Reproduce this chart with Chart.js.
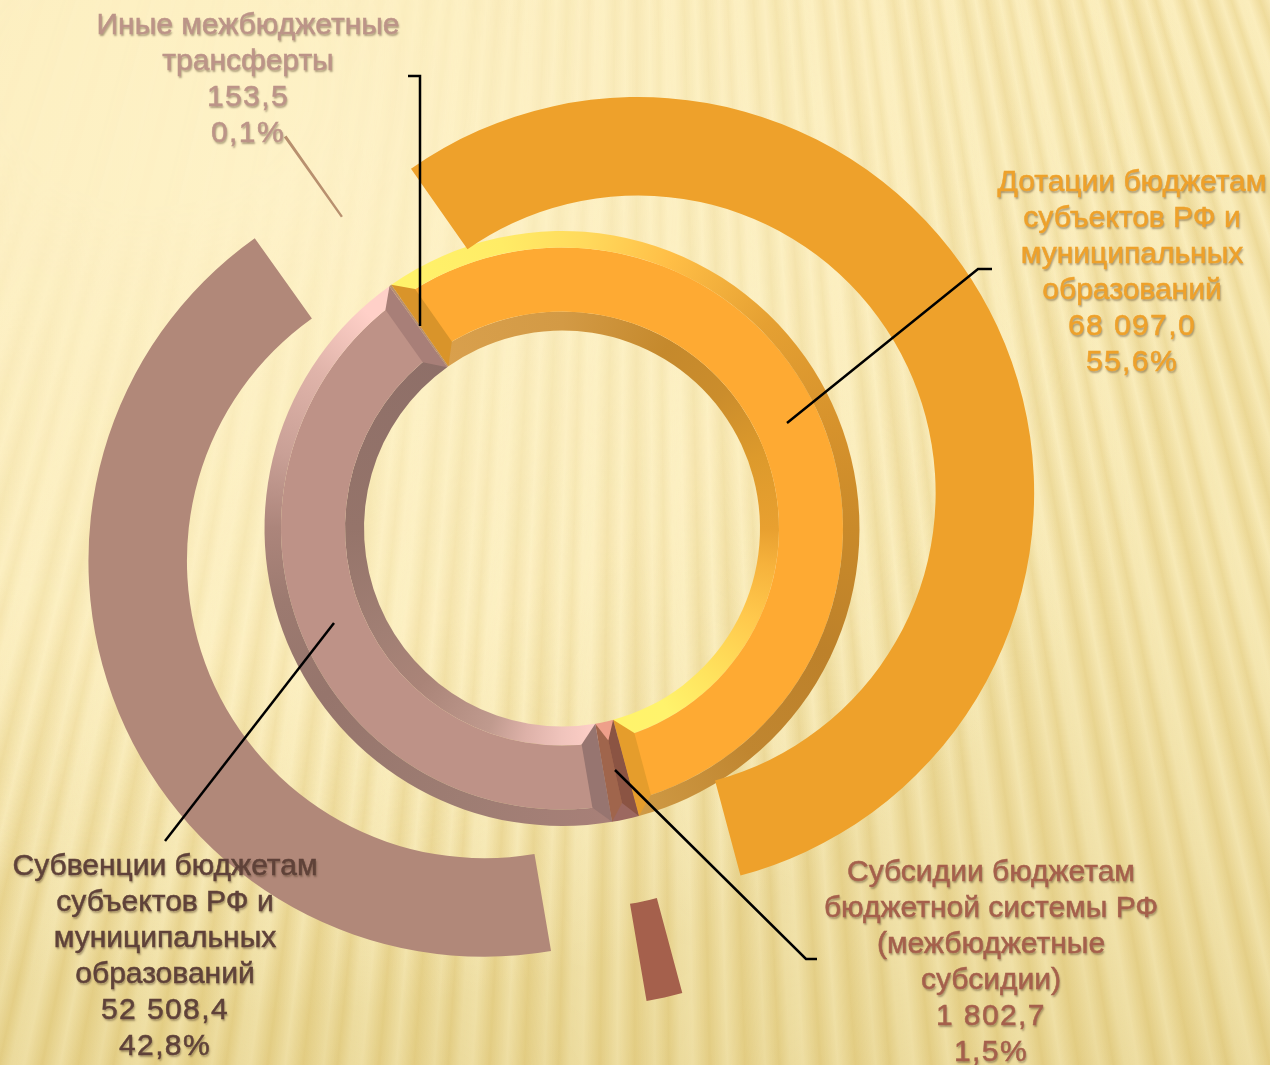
<!DOCTYPE html>
<html lang="ru">
<head>
<meta charset="utf-8">
<title>Межбюджетные трансферты</title>
<script src="https://cdn.jsdelivr.net/npm/chart.js@4"></script>
<style>
  html, body { margin: 0; padding: 0; }
  #page {
    position: relative; width: 1270px; height: 1065px; overflow: hidden;
    background:
      radial-gradient(ellipse 950px 820px at 22% 18%, #FEF2C8 0%, #FCEEBF 55%, rgba(252,238,191,0) 100%),
      linear-gradient(180deg, #F8E8B2 0%, #F2E1A6 55%, #E9D695 82%, #E3CE86 100%);
  }
  #stripes {
    position: absolute; inset: 0;
    background: repeating-conic-gradient(from 150deg at 640px -1800px,
      rgba(226,202,125,.42) 0deg, rgba(255,246,205,.4) .34deg, rgba(255,246,205,.3) .6deg, rgba(226,202,125,.34) .82deg,
      rgba(255,246,205,.32) 1.1deg, rgba(226,202,125,.46) 1.5deg, rgba(255,246,205,.4) 1.85deg, rgba(226,202,125,.42) 2.2deg);
    -webkit-mask-image: radial-gradient(ellipse 1000px 800px at 12% 8%, rgba(0,0,0,.04) 15%, rgba(0,0,0,.5) 60%, #000 100%);
    mask-image: radial-gradient(ellipse 1000px 800px at 12% 8%, rgba(0,0,0,.04) 15%, rgba(0,0,0,.5) 60%, #000 100%);
  }
  canvas { position: absolute; left: 0; top: 0; }
  .lbl {
    position: absolute; transform: translateX(-50%); text-align: center; white-space: nowrap;
    font: 30px/36px "Liberation Sans", sans-serif;
    -webkit-text-stroke: .5px currentColor;
    text-shadow: 1px 2px 2px rgba(70,50,30,.45);
  }
  .num { letter-spacing: 1.4px; }
</style>
</head>
<body>
<div id="page">
  <div id="stripes"></div>
  <canvas id="chart" width="1270" height="1065"></canvas>
</div>
<script>
// clockwise from the top left
const categories = [
  ["Дотации бюджетам", "субъектов РФ и", "муниципальных", "образований"],
  ["Субсидии бюджетам", "бюджетной системы РФ", "(межбюджетные", "субсидии)"],
  ["Субвенции бюджетам", "субъектов РФ и", "муниципальных", "образований"],
  ["Иные межбюджетные", "трансферты"]
];
const values = [68097.0, 1802.7, 52508.4, 153.5];
const valueLabels = ["68 097,0", "1 802,7", "52 508,4", "153,5"];
const percentLabels = ["55,6%", "1,5%", "42,8%", "0,1%"];

// layout
const startDeg = -35;
const explode = 84;
const bevel = 17;
const labelPos = [[1132, 163], [991, 853], [165, 847], [248, 6]];
const labelColors = ["#EEA12B", "#A5604C", "#5F4239", "#BC9488"];
const leaders = [
  [[992, 269], [978, 269], [787, 423]],
  [[817, 959], [806, 959], [615, 770]],
  [[334, 623], [165, 841]],
  [[408, 76], [420, 76], [420, 326]]
];

// flat colours
const shadowColors = ["#EEA12B", "#A5604C", "#B18879", "#B8906F"];
const faceColors = ["#FEAA33", "#A0654C", "#BE9287", "#B8906F"];
// end facets [start side, end side]
const facetColors = [["#D9942A", "#E59D2C"], ["#8B5443", "#A0654C"], ["#977570", "#A87F78"], null];

// bevel light, [degrees from 12 o'clock, colour]
const outerOrange = [[-35, "#FFF36B"], [-12, "#FFEC66"], [5, "#FFD95C"], [22, "#FFBE46"], [45, "#E5A032"], [70, "#D6922C"], [90, "#C98A2A"], [115, "#BD812A"], [140, "#C08630"], [165, "#CF9A45"]];
const innerOrange = [[-35, "#D9A04D"], [0, "#D39A45"], [30, "#C5892C"], [50, "#CB8D2C"], [70, "#DD9A2C"], [90, "#E8A030"], [100, "#F6B23C"], [115, "#FFC84C"], [135, "#FFE35E"], [150, "#FFF36C"], [165, "#FFF36B"]];
const outerMauve = [[170, "#A88078"], [200, "#9E7D73"], [235, "#96756C"], [255, "#9C7A70"], [270, "#AC857B"], [285, "#C9A096"], [303, "#E0B4AA"], [318, "#FFD0C8"], [325, "#FFD0C8"]];
const innerMauve = [[170, "#FFD0C8"], [180, "#F0C4BC"], [190, "#DDB1A8"], [200, "#C09A8E"], [222, "#AA8478"], [240, "#A17F74"], [270, "#95746A"], [325, "#8E6F68"]];

function conic(chart, stops) {
  const area = chart.chartArea;
  const g = chart.ctx.createConicGradient((startDeg - 90) * Math.PI / 180, (area.left + area.right) / 2, (area.top + area.bottom) / 2);
  stops.forEach(s => g.addColorStop((s[0] - startDeg) / 360, s[1]));
  return g;
}

function bevelColor(orange, mauve, small) {
  return c => {
    if (!c.chart.chartArea) return "#000";
    if (c.dataIndex == 0) return conic(c.chart, orange);
    if (c.dataIndex == 2) return conic(c.chart, mauve);
    return small[c.dataIndex];
  };
}

// moves the outer ring slices out along their middle angle
const explodePlugin = {
  id: "explodeRing",
  afterDatasetsUpdate(chart) {
    chart.getDatasetMeta(0).data.forEach(arc => {
      const mid = (arc.startAngle + arc.endAngle) / 2;
      arc.x += Math.cos(mid) * explode;
      arc.y += Math.sin(mid) * explode;
    });
  }
};

// the mitred end faces of each slice of the inner ring
const facetPlugin = {
  id: "facets",
  afterDatasetsDraw(chart) {
    const ctx = chart.ctx;
    const ring = chart.getDatasetMeta(1).data;
    const inner = chart.getDatasetMeta(3).data;
    const face = chart.getDatasetMeta(2).data;
    ring.forEach((arc, i) => {
      if (!facetColors[i]) return;
      const half = (arc.endAngle - arc.startAngle) / 2;
      const step = r => Math.min(Math.asin(bevel / r), half);
      const pt = (r, a) => [arc.x + Math.cos(a) * r, arc.y + Math.sin(a) * r];
      const rs = [arc.outerRadius, face[i].outerRadius, face[i].innerRadius, inner[i].innerRadius];
      [[arc.startAngle, 1, 0], [arc.endAngle, -1, 1]].forEach(([a, dir, k]) => {
        const pts = [pt(rs[0], a), pt(rs[1], a + dir * step(rs[1])), pt(rs[2], a + dir * step(rs[2])), pt(rs[3], a)];
        ctx.fillStyle = facetColors[i][k];
        ctx.beginPath();
        pts.forEach((p, n) => n ? ctx.lineTo(p[0], p[1]) : ctx.moveTo(p[0], p[1]));
        ctx.closePath();
        ctx.fill();
      });
    });
  }
};

const leaderPlugin = {
  id: "leaders",
  afterDraw(chart) {
    const ctx = chart.ctx;
    ctx.save();
    ctx.strokeStyle = "#000";
    ctx.lineWidth = 2.5;
    leaders.forEach(line => {
      ctx.beginPath();
      line.forEach((p, n) => n ? ctx.lineTo(p[0], p[1]) : ctx.moveTo(p[0], p[1]));
      ctx.stroke();
    });
    ctx.restore();
  }
};

new Chart(document.getElementById("chart"), {
  type: "doughnut",
  data: {
    labels: categories.map(c => c.join(" ")),
    datasets: [
      { data: values, weight: 98.5, backgroundColor: shadowColors },
      { data: values, weight: 16.5, backgroundColor: bevelColor(outerOrange, outerMauve, { 1: "#9C6860", 3: "#B8906F" }) },
      { data: values, weight: 64, backgroundColor: faceColors },
      { data: values, weight: 19, backgroundColor: bevelColor(innerOrange, innerMauve, { 1: "#EE9F8A", 3: "#B8906F" }) }
    ]
  },
  options: {
    responsive: false,
    animation: false,
    events: [],
    rotation: startDeg,
    radius: 396,
    cutout: "50%",
    clip: false,
    borderWidth: 0,
    layout: { padding: { right: 146, bottom: 8 } },
    plugins: { legend: { display: false }, tooltip: { enabled: false } }
  },
  plugins: [explodePlugin, facetPlugin, leaderPlugin]
});

// text labels
categories.forEach((lines, i) => {
  const el = document.createElement("div");
  el.className = "lbl";
  el.style.left = labelPos[i][0] + "px";
  el.style.top = labelPos[i][1] + "px";
  el.style.color = labelColors[i];
  const nums = [valueLabels[i], percentLabels[i]].map(t => '<span class="num">' + t + "</span>");
  el.innerHTML = lines.concat(nums).join("<br>");
  document.getElementById("page").appendChild(el);
});
</script>
</body>
</html>
